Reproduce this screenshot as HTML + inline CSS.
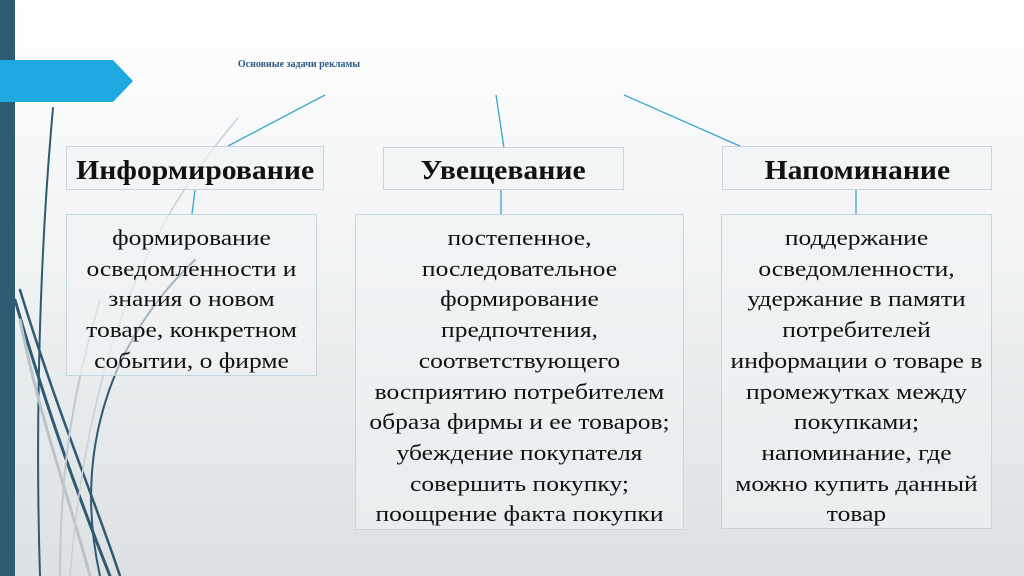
<!DOCTYPE html>
<html><head><meta charset="utf-8"><style>
body{margin:0;width:1024px;height:576px;overflow:hidden;background:linear-gradient(#fff 0%,#f2f4f5 40%,#dde1e3 100%);position:relative;font-family:"Liberation Serif",serif;}
.b{position:absolute;box-sizing:border-box;border:1px solid #c5d5e0;background:rgba(240,243,245,0.6);text-align:center;color:#111;}
.t{font-weight:bold;font-size:27px;display:flex;align-items:center;justify-content:center;padding-top:4px;}
.t span{display:inline-block;transform:scaleX(1.1);}
.c{font-size:22px;line-height:30.7px;padding-top:8px;}
.c div{transform:scaleX(1.16);white-space:nowrap;}
svg{position:absolute;left:0;top:0}
</style></head><body>
<svg width="1024" height="576">
<rect x="0" y="0" width="15" height="576" fill="#2e5a74"/>
<polygon points="0,60 113,60 133,81 113,102 0,102" fill="#1fa9e1"/>
<g fill="none" stroke-linecap="round">
<path d="M53,108 C40,250 35,420 40,576" stroke="#2e5a74" stroke-width="2"/>
<path d="M15,300 C50,420 80,500 110,576" stroke="#2e5a74" stroke-width="3"/>
<path d="M20,290 C60,420 95,500 120,576" stroke="#2e5a74" stroke-width="2.5"/>
<path d="M20,320 C40,420 70,500 90,576" stroke="#b8c4ca" stroke-width="3"/>
<path d="M195,260 C120,330 70,440 100,576" stroke="#2e5a74" stroke-width="2"/>
<path d="M238,118 C160,210 90,330 70,576" stroke="#c8cfd3" stroke-width="1.5"/>
<path d="M100,300 C70,400 60,480 60,576" stroke="#c0c9ce" stroke-width="2"/>
</g>
<g stroke="#3ba3cf" stroke-width="1.3">
<line x1="325" y1="95" x2="228" y2="146"/>
<line x1="496" y1="95" x2="504" y2="148"/>
<line x1="624" y1="95" x2="742" y2="147"/>
<line x1="195" y1="190" x2="192" y2="214"/>
<line x1="501" y1="190" x2="501" y2="214"/>
<line x1="856" y1="190" x2="856" y2="214"/>
</g>
<text x="299" y="67" font-family="Liberation Serif" font-weight="bold" font-size="10" fill="#2e5a84" text-anchor="middle">Основные задачи рекламы</text>
</svg>
<div class="b t" style="left:66px;top:146px;width:258px;height:44px"><span>Информирование</span></div>
<div class="b t" style="left:383px;top:147px;width:241px;height:43px"><span>Увещевание</span></div>
<div class="b t" style="left:722px;top:146px;width:270px;height:44px"><span>Напоминание</span></div>
<div class="b c" style="left:66px;top:214px;width:251px;height:162px"><div>формирование<br>осведомленности и<br>знания о новом<br>товаре, конкретном<br>событии, о фирме</div></div>
<div class="b c" style="left:355px;top:214px;width:329px;height:316px"><div>постепенное,<br>последовательное<br>формирование<br>предпочтения,<br>соответствующего<br>восприятию потребителем<br>образа фирмы и ее товаров;<br>убеждение покупателя<br>совершить покупку;<br>поощрение факта покупки</div></div>
<div class="b c" style="left:721px;top:214px;width:271px;height:315px"><div>поддержание<br>осведомленности,<br>удержание в памяти<br>потребителей<br>информации о товаре в<br>промежутках между<br>покупками;<br>напоминание, где<br>можно купить данный<br>товар</div></div>
</body></html>
